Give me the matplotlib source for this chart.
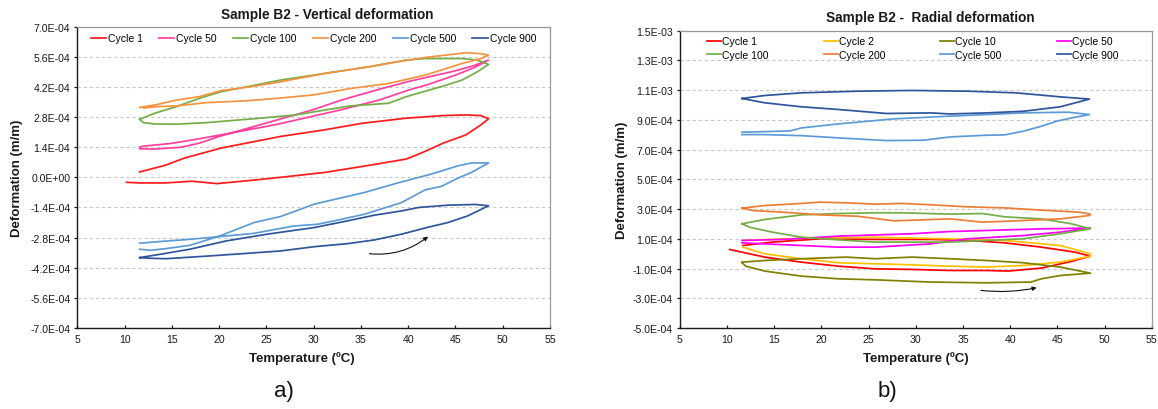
"""
Sample B2 deformation loops: vertical (a) and radial (b) vs temperature.
"""
import matplotlib
matplotlib.use('Agg')
import matplotlib.pyplot as plt
import numpy as np

plt.rcParams['font.family'] = ['Liberation Sans', 'DejaVu Sans']

# deformation values below are in units of 1e-4 m/m
SCALE = 1e-4

# ---- a) vertical deformation ----
V1_T = [10.2, 11.6, 14.3, 17.1, 19.8, 24.1, 27.5, 31.2, 35.9, 39.8, 41.4, 43.7, 46.1, 47.7, 48.5,
        47.7, 46.1, 43.7, 39.8, 35.1, 31.2, 26.5, 20.2, 16.3, 14.3, 11.6]
V1_D = [-0.23, -0.26, -0.26, -0.18, -0.29, -0.11, 0.05, 0.23, 0.56, 0.85, 1.13, 1.59, 1.97, 2.44, 2.72,
        2.87, 2.90, 2.87, 2.75, 2.51, 2.21, 1.90, 1.36, 0.89, 0.56, 0.25]
V50_T = [11.6, 13.0, 16.0, 18.0, 20.0, 24.0, 28.0, 30.0, 33.0, 37.0, 40.0, 43.0, 45.0, 47.0, 48.5,
         47.0, 45.0, 42.0, 40.0, 37.0, 33.0, 30.0, 26.0, 22.0, 18.0, 15.0, 12.0, 11.6]
V50_D = [1.33, 1.31, 1.40, 1.60, 1.90, 2.40, 2.90, 3.15, 3.60, 4.10, 4.45, 4.75, 4.95, 5.20, 5.45,
         5.10, 4.75, 4.30, 4.05, 3.60, 3.15, 2.85, 2.45, 2.12, 1.80, 1.58, 1.45, 1.40]
V100_T = [11.6, 13.2, 15.5, 17.9, 20.2, 22.6, 26.5, 31.2, 35.9, 39.8, 41.8, 45.7, 47.3, 48.5,
          47.3, 45.7, 43.7, 39.8, 37.9, 33.9, 31.2, 28.1, 24.1, 18.6, 15.5, 13.2, 12.0, 11.6]
V100_D = [2.70, 2.98, 3.29, 3.67, 3.98, 4.18, 4.52, 4.83, 5.14, 5.45, 5.52, 5.52, 5.45, 5.25,
          4.90, 4.52, 4.24, 3.75, 3.44, 3.32, 3.13, 2.90, 2.74, 2.54, 2.47, 2.48, 2.54, 2.70]
V200_T = [11.6, 13.2, 15.5, 17.9, 20.2, 23.3, 26.5, 31.2, 35.9, 38.2, 41.8, 46.1, 47.6, 48.5,
          47.7, 45.7, 41.8, 37.9, 33.9, 30.0, 26.1, 23.0, 18.6, 15.5, 13.2, 12.0]
V200_D = [3.25, 3.36, 3.59, 3.75, 4.03, 4.21, 4.44, 4.83, 5.14, 5.32, 5.57, 5.79, 5.75, 5.68,
          5.52, 5.29, 4.75, 4.36, 4.13, 3.83, 3.67, 3.56, 3.47, 3.32, 3.28, 3.22]
V500_T = [11.6, 14.1, 16.9, 20.1, 23.7, 27.9, 30.4, 32.2, 35.4, 39.3, 41.8, 43.5, 45.3, 46.7, 48.5,
          46.7, 45.3, 42.5, 38.9, 35.4, 30.1, 26.5, 23.7, 20.1, 16.9, 14.4, 12.7, 11.6]
V500_D = [-3.06, -2.97, -2.88, -2.75, -2.60, -2.26, -2.18, -2.02, -1.71, -1.17, -0.58, -0.42, -0.03, 0.23, 0.67,
          0.67, 0.54, 0.16, -0.26, -0.70, -1.24, -1.82, -2.10, -2.72, -3.16, -3.31, -3.39, -3.34]
V900_T = [11.6, 14.1, 16.9, 20.8, 25.1, 30.1, 33.6, 36.4, 39.3, 41.1, 44.3, 47.1, 48.5,
          46.3, 44.2, 42.0, 39.3, 36.4, 33.6, 30.1, 26.5, 23.0, 18.7, 14.4, 12.7, 11.6]
V900_D = [-3.73, -3.55, -3.34, -2.95, -2.64, -2.33, -2.02, -1.76, -1.56, -1.40, -1.29, -1.26, -1.32,
          -1.79, -2.10, -2.33, -2.64, -2.91, -3.08, -3.22, -3.42, -3.53, -3.66, -3.78, -3.76, -3.73]

VERT_LABELS = ['Cycle 1', 'Cycle 50', 'Cycle 100', 'Cycle 200', 'Cycle 500', 'Cycle 900']
VERT_T = [V1_T, V50_T, V100_T, V200_T, V500_T, V900_T]
VERT_D = [V1_D, V50_D, V100_D, V200_D, V500_D, V900_D]
VERT_COLORS = ['#FF1A1A', '#FF3FA0', '#72AE45', '#F7923F', '#5C9BD8', '#2F559B']
VERT_ARROW = [(35.9, -3.55), (42.1, -2.75)]

# ---- b) radial deformation ----
R1_T = [10.3, 14.0, 17.9, 21.8, 25.7, 29.6, 33.6, 37.5, 39.8, 43.3, 46.5, 48.5,
        46.9, 43.3, 39.4, 35.5, 31.6, 25.7, 19.9, 14.8, 11.7]
R1_D = [0.28, -0.23, -0.57, -0.84, -1.02, -1.06, -1.13, -1.13, -1.17, -0.97, -0.52, -0.17,
        0.10, 0.44, 0.73, 0.89, 0.96, 0.96, 1.00, 0.78, 0.55]
R2_T = [11.7, 17.9, 25.7, 33.6, 39.4, 45.3, 48.5, 48.5, 45.3, 41.4, 37.5, 33.6, 29.6, 25.7, 21.8, 17.9, 14.0, 11.7]
R2_D = [0.89, 1.04, 1.11, 1.00, 0.89, 0.55, -0.01, -0.17, -0.57, -0.79, -0.90, -0.84, -0.75, -0.68, -0.61, -0.34, -0.01, 0.44]
R10_T = [11.6, 14.0, 17.9, 22.6, 25.7, 29.6, 33.6, 37.5, 41.4, 45.3, 48.5,
         45.3, 43.3, 42.2, 37.5, 31.6, 25.7, 21.8, 17.9, 14.0, 12.0, 11.6]
R10_D = [-0.57, -0.46, -0.34, -0.23, -0.34, -0.23, -0.34, -0.46, -0.61, -0.90, -1.31,
         -1.47, -1.69, -1.91, -1.96, -1.91, -1.76, -1.69, -1.51, -1.17, -0.84, -0.61]
R50_T = [11.6, 16.0, 21.8, 29.6, 33.6, 37.5, 43.3, 48.5, 45.3, 41.4, 35.5, 31.6, 25.7, 21.8, 17.9, 14.0, 11.6]
R50_D = [0.89, 0.96, 1.18, 1.34, 1.49, 1.56, 1.67, 1.72, 1.45, 1.22, 1.00, 0.66, 0.44, 0.44, 0.55, 0.66, 0.73]
R100_T = [11.6, 14.0, 17.9, 21.8, 25.7, 28.5, 33.6, 37.1, 39.4, 43.3, 46.5, 48.5,
          45.3, 41.4, 37.5, 33.6, 29.6, 25.7, 21.8, 17.9, 14.8, 12.4, 11.6]
R100_D = [2.01, 2.30, 2.61, 2.70, 2.75, 2.75, 2.66, 2.70, 2.48, 2.34, 2.01, 1.67,
          1.34, 1.00, 0.89, 0.78, 0.78, 0.78, 0.93, 1.11, 1.45, 1.78, 2.01]
R200_T = [11.6, 14.0, 17.9, 19.9, 22.6, 25.7, 28.5, 31.6, 35.5, 39.4, 43.3, 47.3, 48.5,
          48.4, 45.3, 41.4, 37.1, 33.6, 29.6, 27.7, 23.8, 19.9, 16.0, 12.8, 11.6]
R200_D = [3.06, 3.24, 3.38, 3.47, 3.42, 3.33, 3.38, 3.29, 3.15, 3.08, 2.93, 2.79, 2.66,
          2.57, 2.34, 2.23, 2.12, 2.34, 2.25, 2.21, 2.52, 2.61, 2.79, 2.90, 3.06]
R500_T = [11.6, 14.0, 16.7, 17.9, 21.8, 27.7, 33.6, 37.5, 41.4, 46.1, 48.4,
          46.5, 44.9, 43.3, 41.4, 39.4, 37.5, 33.6, 30.8, 26.9, 21.8, 17.9, 14.0, 11.6]
R500_D = [8.17, 8.21, 8.26, 8.46, 8.73, 9.07, 9.25, 9.36, 9.47, 9.52, 9.36,
          9.13, 8.91, 8.57, 8.24, 7.99, 7.97, 7.85, 7.63, 7.61, 7.79, 7.94, 8.01, 8.01]
R900_T = [11.6, 14.0, 17.9, 23.8, 29.6, 35.5, 40.6, 45.3, 48.4,
          45.3, 41.4, 37.5, 33.6, 31.6, 26.9, 21.8, 17.9, 14.0, 11.6]
R900_D = [10.44, 10.64, 10.82, 10.93, 10.98, 10.93, 10.82, 10.55, 10.40,
          9.88, 9.58, 9.47, 9.40, 9.47, 9.43, 9.70, 9.88, 10.15, 10.44]

RAD_LABELS = ['Cycle 1', 'Cycle 2', 'Cycle 10', 'Cycle 50', 'Cycle 100', 'Cycle 200', 'Cycle 500', 'Cycle 900']
RAD_T = [R1_T, R2_T, R10_T, R50_T, R100_T, R200_T, R500_T, R900_T]
RAD_D = [R1_D, R2_D, R10_D, R50_D, R100_D, R200_D, R500_D, R900_D]
RAD_COLORS = ['#FF0000', '#FFC000', '#808000', '#FF00FF', '#72AE45', '#EE7D35', '#5C9BD8', '#2F559B']
RAD_ARROW = [(36.9, -2.47), (42.8, -2.29)]

W, H = 1158, 410
TICK_FS = 7.6
LEG_FS = 7.5
LW = 1.25


def sci_fmt(v, pos):
    if abs(v) < 1e-12:
        v = 0.0
    return f'{v:.1E}'


def style_axes(ax, yticks):
    ax.set_xlim(5, 55)
    ax.set_xticks(np.arange(5, 56, 5))
    ax.set_ylim(yticks[0], yticks[-1])
    ax.set_yticks(yticks)
    ax.yaxis.set_major_formatter(plt.FuncFormatter(sci_fmt))
    ax.grid(axis='y', linestyle=(0, (3, 2.5)), color='#C8C8C8', linewidth=0.8, zorder=0)
    for side in ('left', 'bottom'):
        ax.spines[side].set_color('#1A1A1A')
        ax.spines[side].set_linewidth(1.0)
    for side in ('top', 'right'):
        ax.spines[side].set_color('#9A9A9A')
        ax.spines[side].set_linewidth(0.9)
    ax.tick_params(axis='y', direction='out', length=2.5, width=0.9, pad=2.5,
                   labelsize=TICK_FS, colors='#1A1A1A')
    ax.tick_params(axis='x', direction='in', length=2.5, width=0.9, pad=4,
                   labelsize=TICK_FS, colors='#1A1A1A')
    ax.set_axisbelow(True)


def draw_arrow(ax, pts, rad):
    (x0, y0), (x1, y1) = pts
    ax.annotate('', xy=(x1, y1 * SCALE), xytext=(x0, y0 * SCALE),
                arrowprops=dict(arrowstyle='-|>', color='#111111', lw=0.8,
                                mutation_scale=6, shrinkA=0, shrinkB=0,
                                connectionstyle=f'arc3,rad={rad}'))


fig = plt.figure(figsize=(W / 100, H / 100), dpi=100)

# a) vertical
ax1 = fig.add_axes([77.3 / W, 1 - 329 / H, 472.7 / W, (329 - 27.7) / H])
style_axes(ax1, np.linspace(-7e-4, 7e-4, 11))
for t, d, c, lab in zip(VERT_T, VERT_D, VERT_COLORS, VERT_LABELS):
    ax1.plot(t, np.array(d) * SCALE, color=c, lw=LW, label=lab, zorder=3)
draw_arrow(ax1, VERT_ARROW, 0.2)
ax1.legend(loc='center left', bbox_to_anchor=(90.8 / W, 1 - 39.5 / H),
           bbox_transform=fig.transFigure, ncol=6, frameon=False, fontsize=LEG_FS,
           handlelength=1.45, handletextpad=0.2, columnspacing=1.55,
           borderpad=0, borderaxespad=0)

# b) radial
ax2 = fig.add_axes([679.7 / W, 1 - 329 / H, 472.1 / W, (329 - 31.7) / H])
style_axes(ax2, np.linspace(-5e-4, 1.5e-3, 11))
handles = []
for t, d, c, lab in zip(RAD_T, RAD_D, RAD_COLORS, RAD_LABELS):
    ln, = ax2.plot(t, np.array(d) * SCALE, color=c, lw=LW, label=lab, zorder=3)
    handles.append(ln)
draw_arrow(ax2, RAD_ARROW, 0.08)
# legend is filled row by row (4 per row)
order = [0, 4, 1, 5, 2, 6, 3, 7]
ax2.legend([handles[i] for i in order], [RAD_LABELS[i] for i in order],
           loc='center left', bbox_to_anchor=(706.7 / W, 1 - 49.2 / H),
           bbox_transform=fig.transFigure, ncol=4, frameon=False, fontsize=LEG_FS,
           handlelength=1.35, handletextpad=0.1, columnspacing=5.3,
           labelspacing=0.35, borderpad=0, borderaxespad=0)

# titles and labels
title_kw = dict(fontsize=9.8, fontweight='bold', color='#1A1A1A', ha='center', va='center')
fig.text(327 / W, 1 - 14.5 / H, 'Sample B2 - Vertical deformation', **title_kw)
fig.text(930 / W, 1 - 18.3 / H, 'Sample B2 -  Radial deformation', **title_kw)

lab_kw = dict(fontsize=9.5, fontweight='bold', color='#1A1A1A', ha='center', va='center')
fig.text(301.5 / W, 1 - 359 / H, 'Temperature (ºC)', **lab_kw)
fig.text(915.6 / W, 1 - 359 / H, 'Temperature (ºC)', **lab_kw)
fig.text(16.7 / W, 1 - 178 / H, 'Deformation (m/m)', rotation=90, **lab_kw)
fig.text(622.5 / W, 1 - 180 / H, 'Deformation (m/m)', rotation=90, **lab_kw)

fig.text(283.7 / W, 1 - 391.7 / H, 'a)', fontsize=16, ha='center', va='center', color='#111111')
fig.text(887.5 / W, 1 - 391.7 / H, 'b)', fontsize=16, ha='center', va='center', color='#111111')

fig.savefig('out.png', dpi=100)
